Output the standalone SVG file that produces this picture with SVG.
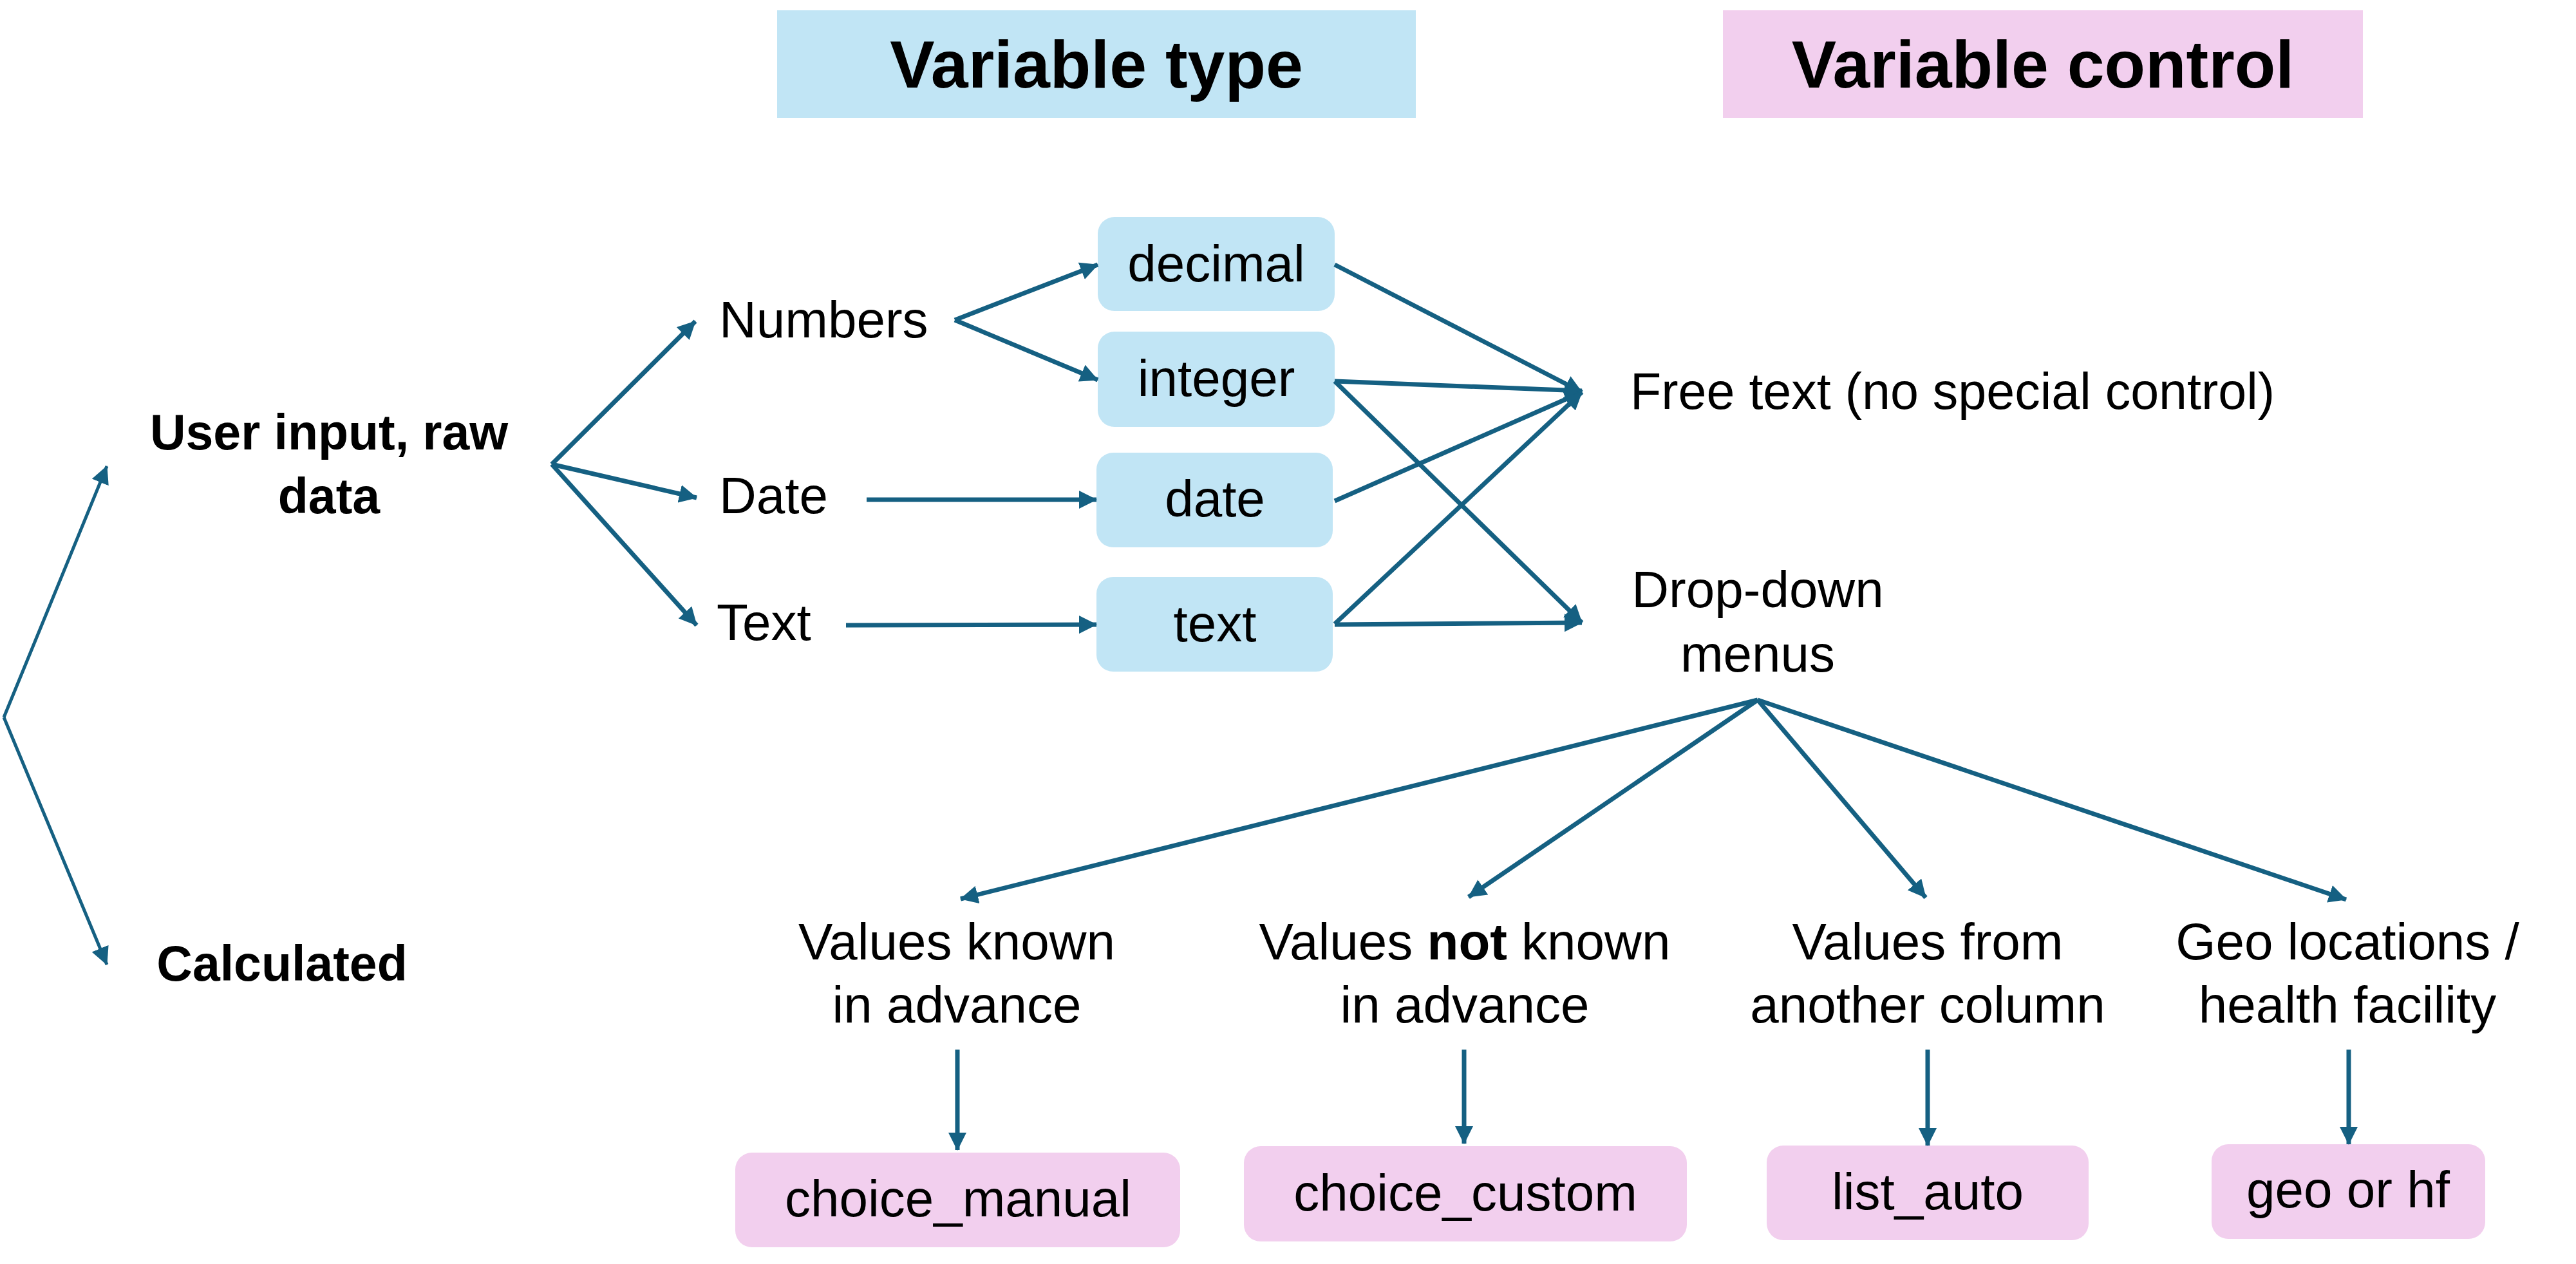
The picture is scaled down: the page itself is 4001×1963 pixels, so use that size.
<svg xmlns="http://www.w3.org/2000/svg" width="4001" height="1963" viewBox="0 0 4001 1963">
<defs>
<style>
.t{font-family:"Liberation Sans",Arial,sans-serif;font-size:80px;fill:#000;text-anchor:middle}
.s{text-anchor:start}
.b{font-weight:bold}
.lb{font-size:77px}
.h{font-size:104px;font-weight:bold}
.blue{fill:#C1E5F5}
.pink{fill:#F2CFEE}
.c{stroke:#156082;stroke-width:7;fill:none;marker-end:url(#ah)}
.thin{stroke-width:5}
</style>
<marker id="ah" markerUnits="userSpaceOnUse" viewBox="0 0 28 28" markerWidth="28" markerHeight="28" refX="27" refY="14" orient="auto">
<path d="M0,0 L28,14 L0,28 z" fill="#156082"/>
</marker>
</defs>
<rect width="4001" height="1963" fill="#fff"/>

<g id="title-type"><rect class="blue" x="1207" y="16" width="992" height="167"/><text class="t h" x="1703" y="136">Variable type</text></g>
<g id="title-control"><rect class="pink" x="2676" y="16" width="994" height="167"/><text class="t h" x="3173" y="136">Variable control</text></g>

<g id="user-input"><text class="t b lb" x="511" y="698">User input, raw</text><text class="t b lb" x="511" y="797">data</text></g>
<g id="calculated"><text class="t b lb" x="438" y="1523">Calculated</text></g>

<g id="numbers"><text class="t s" x="1117" y="524">Numbers</text></g>
<g id="date-label"><text class="t s" x="1117" y="797">Date</text></g>
<g id="text-label"><text class="t s" x="1113" y="994">Text</text></g>

<g id="decimal"><rect class="blue" x="1705" y="337" width="368" height="146" rx="26"/><text class="t" x="1889" y="437">decimal</text></g>
<g id="integer"><rect class="blue" x="1705" y="515" width="368" height="148" rx="26"/><text class="t" x="1889" y="615">integer</text></g>
<g id="date"><rect class="blue" x="1703" y="703" width="367" height="147" rx="26"/><text class="t" x="1887" y="802">date</text></g>
<g id="text"><rect class="blue" x="1703" y="896" width="367" height="147" rx="26"/><text class="t" x="1887" y="996">text</text></g>

<g id="free-text"><text class="t s" x="2532" y="635" style="font-size:79px">Free text (no special control)</text></g>
<g id="drop-down"><text class="t" x="2730" y="943">Drop-down</text><text class="t" x="2730" y="1043">menus</text></g>

<g id="values-known"><text class="t" x="1486" y="1490">Values known</text><text class="t" x="1486" y="1588">in advance</text></g>
<g id="values-not-known"><text class="t" x="2275" y="1490">Values <tspan class="b">not</tspan> known</text><text class="t" x="2275" y="1588">in advance</text></g>
<g id="values-from"><text class="t" x="2994" y="1490">Values from</text><text class="t" x="2994" y="1588">another column</text></g>
<g id="geo"><text class="t" x="3646" y="1490">Geo locations /</text><text class="t" x="3646" y="1588">health facility</text></g>

<g id="choice-manual"><rect class="pink" x="1142" y="1790" width="691" height="147" rx="26"/><text class="t" x="1488" y="1889">choice_manual</text></g>
<g id="choice-custom"><rect class="pink" x="1932" y="1780" width="688" height="148" rx="26"/><text class="t" x="2276" y="1880">choice_custom</text></g>
<g id="list-auto"><rect class="pink" x="2744" y="1779" width="500" height="147" rx="26"/><text class="t" x="2994" y="1878">list_auto</text></g>
<g id="geo-hf"><rect class="pink" x="3435" y="1777" width="425" height="147" rx="26"/><text class="t" x="3647" y="1875">geo or hf</text></g>

<g id="connectors">
<line class="c thin" x1="6" y1="1114" x2="166" y2="724"/>
<line class="c thin" x1="6" y1="1114" x2="166" y2="1498"/>
<line class="c" x1="857" y1="721" x2="1080" y2="499"/>
<line class="c" x1="857" y1="721" x2="1082" y2="773"/>
<line class="c" x1="857" y1="721" x2="1082" y2="971"/>
<line class="c" x1="1483" y1="497" x2="1705" y2="411"/>
<line class="c" x1="1483" y1="497" x2="1705" y2="590"/>
<line class="c" x1="1346" y1="776" x2="1703" y2="776"/>
<line class="c" x1="1314" y1="971" x2="1703" y2="970"/>
<line class="c" x1="2073" y1="411" x2="2457" y2="609"/>
<line class="c" x1="2073" y1="592" x2="2457" y2="607"/>
<line class="c" x1="2073" y1="778" x2="2457" y2="609"/>
<line class="c" x1="2073" y1="969" x2="2457" y2="609"/>
<line class="c" x1="2073" y1="592" x2="2457" y2="967"/>
<line class="c" x1="2073" y1="970" x2="2457" y2="967"/>
<line class="c" x1="2730" y1="1087" x2="1492" y2="1396"/>
<line class="c" x1="2730" y1="1087" x2="2281" y2="1393"/>
<line class="c" x1="2730" y1="1087" x2="2991" y2="1394"/>
<line class="c" x1="2730" y1="1087" x2="3644" y2="1397"/>
<line class="c" x1="1487" y1="1630" x2="1487" y2="1786"/>
<line class="c" x1="2274" y1="1630" x2="2274" y2="1776"/>
<line class="c" x1="2994" y1="1630" x2="2994" y2="1779"/>
<line class="c" x1="3648" y1="1630" x2="3648" y2="1777"/>
</g>
</svg>
